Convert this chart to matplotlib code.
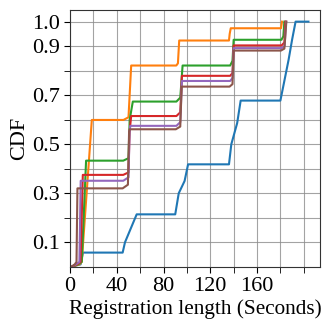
import matplotlib.pyplot as plt
from matplotlib.ticker import FixedLocator

plt.rcParams["font.family"] = ["Liberation Serif", "DejaVu Serif"]
plt.rcParams["font.size"] = 16

# registration length CDF for six series (seconds, CDF value)
blue_x = [1, 9, 11, 45, 47, 57, 90, 93, 98, 101, 136, 138, 143, 146, 180, 183, 187, 190, 193, 204]
blue_y = [0, 0.01, 0.058, 0.058, 0.1, 0.214, 0.214, 0.3, 0.35, 0.418, 0.418, 0.5, 0.586, 0.678,
          0.678, 0.749, 0.844, 0.926, 1.0, 1.0]

orange_x = [1, 8, 10, 18.6, 45.7, 50, 52.3, 90.9, 92.3, 93.4, 136, 136.6, 137.5, 180.5, 181.4]
orange_y = [0, 0.01, 0.02, 0.599, 0.599, 0.61, 0.821, 0.821, 0.83, 0.923, 0.923, 0.95, 0.973, 0.973, 1.0]

green_x = [1, 7, 10, 13.7, 45.5, 50, 51, 53.7, 91, 94.3, 96.3, 137, 139, 140, 180.9, 182.5, 183.4]
green_y = [0, 0.01, 0.02, 0.433, 0.433, 0.443, 0.6, 0.674, 0.674, 0.69, 0.821, 0.821, 0.84, 0.926,
           0.926, 0.94, 1.0]

red_x = [1, 6, 9, 10.9, 45.5, 50, 50.9, 52.3, 91, 94.3, 95.7, 137, 139, 140, 181, 183.4, 184.3]
red_y = [0, 0.01, 0.02, 0.375, 0.375, 0.385, 0.55, 0.615, 0.615, 0.63, 0.779, 0.779, 0.79, 0.903,
         0.903, 0.915, 1.0]

purple_x = [1, 5, 8, 9.1, 45.5, 50, 50.9, 51.5, 91, 94.3, 95.7, 137, 139, 140, 181, 183.6, 184.9]
purple_y = [0, 0.01, 0.02, 0.351, 0.351, 0.365, 0.55, 0.575, 0.575, 0.59, 0.758, 0.758, 0.77, 0.892,
            0.892, 0.9, 1.0]

brown_x = [1, 4, 5.5, 6.3, 45, 49.5, 50.5, 51, 90.5, 94.3, 95.5, 136.5, 139, 140, 180.5, 183.4, 185.1]
brown_y = [0, 0.01, 0.02, 0.32, 0.32, 0.335, 0.55, 0.561, 0.561, 0.572, 0.735, 0.735, 0.745, 0.882,
           0.882, 0.89, 1.0]

series = [
    (blue_x, blue_y, "tab:blue"),
    (orange_x, orange_y, "tab:orange"),
    (green_x, green_y, "tab:green"),
    (red_x, red_y, "tab:red"),
    (purple_x, purple_y, "tab:purple"),
    (brown_x, brown_y, "tab:brown"),
]

fig = plt.figure(figsize=(3.29, 3.29), dpi=100)
ax = fig.add_axes([0.213, 0.189, 0.760, 0.781])

for xs, ys, c in series:
    ax.plot(xs, ys, color=c, linewidth=1.5)

ax.set_xlim(0, 214)
ax.set_ylim(0, 1.048)
ax.xaxis.set_major_locator(FixedLocator([0, 40, 80, 120, 160]))
ax.xaxis.set_minor_locator(FixedLocator([20, 60, 100, 140, 180, 200]))
ax.yaxis.set_major_locator(FixedLocator([0.1, 0.3, 0.5, 0.7, 0.9, 1.0]))
ax.yaxis.set_minor_locator(FixedLocator([0.2, 0.4, 0.6, 0.8]))
ax.grid(True, which="both", color="0.55", linewidth=0.8, alpha=0.8)
ax.tick_params(which="both", direction="out", length=4)
ax.set_axisbelow(True)

ax.set_xlabel("Registration length (Seconds)", fontsize=15.3, labelpad=2)
ax.set_ylabel("CDF", labelpad=2)

for s in ax.spines.values():
    s.set_color("0.2")

fig.savefig("out.png", dpi=100)
